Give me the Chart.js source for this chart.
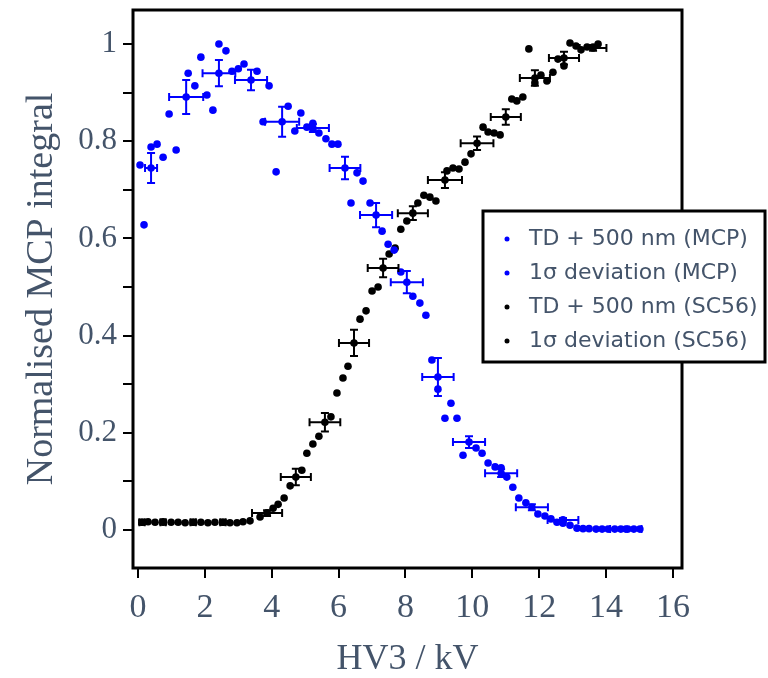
<!DOCTYPE html>
<html>
<head>
<meta charset="utf-8">
<script src="https://cdn.jsdelivr.net/npm/chart.js@4.4.1/dist/chart.umd.min.js"></script>
<style>
  html, body { margin: 0; padding: 0; background: #fff; }
  #wrap { width: 768px; height: 678px; position: relative; }
</style>
</head>
<body>
<div id="wrap"><canvas id="mcpChart"></canvas></div>
<script>
// TD + 500 nm (MCP)
const mcpX = [0.06, 0.18, 0.39, 0.57, 0.75, 0.93, 1.14, 1.50, 1.70, 1.88, 2.06, 2.24, 2.42, 2.63, 2.81, 3.00, 3.17, 3.56, 3.74, 3.92,
  4.13, 4.49, 4.69, 4.87, 5.05, 5.23, 5.23, 5.41, 5.62, 5.80, 5.98, 6.37, 6.55, 6.73, 6.94, 7.30, 7.48, 7.66, 7.86, 8.22,
  8.43, 8.61, 8.79, 8.97, 9.18, 9.36, 9.54, 9.72, 10.11, 10.29, 10.47, 10.68, 10.86, 11.03, 11.21, 11.39, 11.60, 11.96, 12.17, 12.35,
  12.53, 12.71, 12.92, 13.13, 13.31, 13.49, 13.70, 13.88, 14.06, 14.26, 14.44, 14.65, 14.83, 15.01];
const mcpY = [0.751, 0.628, 0.788, 0.794, 0.767, 0.856, 0.782, 0.940, 0.914, 0.973, 0.895, 0.864, 1.000, 0.986, 0.944, 0.949, 0.959, 0.944, 0.840, 0.914,
  0.737, 0.872, 0.821, 0.858, 0.829, 0.837, 0.825, 0.817, 0.805, 0.794, 0.794, 0.673, 0.735, 0.718, 0.673, 0.615, 0.588, 0.576, 0.531, 0.481,
  0.467, 0.442, 0.350, 0.290, 0.230, 0.261, 0.230, 0.154, 0.169, 0.158, 0.138, 0.130, 0.128, 0.109, 0.088, 0.066, 0.056, 0.033, 0.029, 0.023,
  0.016, 0.014, 0.010, 0.004, 0.003, 0.003, 0.002, 0.002, 0.002, 0.002, 0.002, 0.002, 0.002, 0.002];

// 1σ deviation (MCP)
const mcpErrX = [0.39, 1.44, 2.42, 3.38, 4.31, 5.23, 6.19, 7.12, 8.04, 8.97, 9.90, 10.86, 11.78, 12.71, 14.59];
const mcpErrY = [0.745, 0.891, 0.940, 0.926, 0.840, 0.827, 0.745, 0.648, 0.510, 0.315, 0.181, 0.117, 0.047, 0.021, 0.002];
const mcpErrDX = [0.18, 0.51, 0.49, 0.48, 0.51, 0.48, 0.46, 0.48, 0.48, 0.47, 0.48, 0.48, 0.48, 0.46, 0.47];
const mcpErrDY = [0.031, 0.035, 0.027, 0.021, 0.031, 0.008, 0.023, 0.025, 0.023, 0.039, 0.012, 0.008, 0.006, 0.004, 0.003];

// TD + 500 nm (SC56)
const scX = [0.12, 0.30, 0.51, 0.75, 0.99, 1.20, 1.41, 1.65, 1.88, 2.09, 2.30, 2.54, 2.75, 2.96, 3.14, 3.35, 3.65, 3.86, 4.04, 4.19,
  4.37, 4.55, 4.90, 5.05, 5.23, 5.41, 5.77, 5.95, 6.13, 6.28, 6.64, 6.82, 7.00, 7.18, 7.51, 7.69, 7.86, 8.04, 8.37, 8.55,
  8.73, 8.91, 9.24, 9.42, 9.60, 9.78, 9.96, 10.32, 10.47, 10.65, 10.83, 11.18, 11.33, 11.51, 11.69, 11.87, 12.05, 12.23, 12.41, 12.56,
  12.74, 12.92, 13.10, 13.25, 13.43, 13.61, 13.76];
const scY = [0.016, 0.017, 0.016, 0.017, 0.016, 0.016, 0.015, 0.016, 0.016, 0.015, 0.016, 0.016, 0.015, 0.015, 0.017, 0.019, 0.027, 0.035, 0.045, 0.053,
  0.066, 0.091, 0.123, 0.158, 0.177, 0.193, 0.233, 0.282, 0.313, 0.337, 0.434, 0.451, 0.492, 0.500, 0.568, 0.580, 0.619, 0.636, 0.673, 0.689,
  0.685, 0.677, 0.739, 0.745, 0.743, 0.757, 0.774, 0.829, 0.819, 0.817, 0.813, 0.887, 0.883, 0.891, 0.990, 0.920, 0.936, 0.924, 0.942, 0.969,
  0.955, 1.002, 0.996, 0.988, 0.994, 0.994, 1.000];

// 1σ deviation (SC56)
const scErrX = [0.12, 0.75, 1.65, 2.54, 3.86, 4.72, 5.59, 6.46, 7.33, 8.22, 9.18, 10.14, 11.00, 11.87, 12.74, 13.61];
const scErrY = [0.016, 0.016, 0.016, 0.016, 0.035, 0.109, 0.222, 0.385, 0.539, 0.652, 0.720, 0.796, 0.850, 0.930, 0.971, 0.992];
const scErrDX = [0.08, 0.08, 0.08, 0.08, 0.45, 0.45, 0.46, 0.45, 0.46, 0.45, 0.51, 0.49, 0.45, 0.45, 0.45, 0.40];
const scErrDY = [0.004, 0.004, 0.004, 0.004, 0.006, 0.017, 0.019, 0.027, 0.019, 0.014, 0.016, 0.014, 0.016, 0.016, 0.013, 0.006];

const xTicks = [0, 2, 4, 6, 8, 10, 12, 14, 16];
const yTicks = [0, 0.1, 0.2, 0.3, 0.4, 0.5, 0.6, 0.7, 0.8, 0.9, 1];
const yTickLabels = ['0', '', '0.2', '', '0.4', '', '0.6', '', '0.8', '', '1'];
const seriesNames = ['TD + 500 nm (MCP)', '1σ deviation (MCP)', 'TD + 500 nm (SC56)', '1σ deviation (SC56)'];

const textColor = '#44546a';
const serif = '"Liberation Serif", "Times New Roman", serif';
const toPoints = (xs, ys) => xs.map((x, i) => ({ x: x, y: ys[i] }));

// error bars drawn through the chart scales
const errorBars = {
  id: 'errorBars',
  afterDatasetsDraw(chart) {
    const ctx = chart.ctx;
    const xs = chart.scales.x, ys = chart.scales.y;
    chart.data.datasets.forEach((ds) => {
      if (!ds.errX) return;
      ctx.save();
      ctx.strokeStyle = ds.borderColor;
      ctx.lineWidth = 2;
      ds.data.forEach((p, i) => {
        const cx = xs.getPixelForValue(p.x), cy = ys.getPixelForValue(p.y);
        const x0 = xs.getPixelForValue(p.x - ds.errX[i]), x1 = xs.getPixelForValue(p.x + ds.errX[i]);
        const y0 = ys.getPixelForValue(p.y - ds.errY[i]), y1 = ys.getPixelForValue(p.y + ds.errY[i]);
        const cap = 4;
        ctx.beginPath();
        ctx.moveTo(x0, cy); ctx.lineTo(x1, cy);
        ctx.moveTo(x0, cy - cap); ctx.lineTo(x0, cy + cap);
        ctx.moveTo(x1, cy - cap); ctx.lineTo(x1, cy + cap);
        ctx.moveTo(cx, y0); ctx.lineTo(cx, y1);
        ctx.moveTo(cx - cap, y0); ctx.lineTo(cx + cap, y0);
        ctx.moveTo(cx - cap, y1); ctx.lineTo(cx + cap, y1);
        ctx.stroke();
      });
      ctx.restore();
    });
  }
};

// box around the plot and the legend inside it
const frameAndLegend = {
  id: 'frameAndLegend',
  afterDraw(chart) {
    const ctx = chart.ctx;
    const a = chart.chartArea;
    ctx.save();
    ctx.strokeStyle = '#000';
    ctx.lineWidth = 3;
    ctx.strokeRect(a.left, a.top, a.right - a.left, a.bottom - a.top);

    const bx = 483, by = 211, bw = 282, bh = 151;
    ctx.fillStyle = '#fff';
    ctx.fillRect(bx, by, bw, bh);
    ctx.strokeRect(bx, by, bw, bh);
    ctx.font = '22px "DejaVu Sans", Verdana, sans-serif';
    ctx.textBaseline = 'middle';
    chart.data.datasets.forEach((ds, i) => {
      const ly = by + 28 + i * 34;
      ctx.fillStyle = ds.backgroundColor;
      ctx.beginPath();
      ctx.arc(bx + 24, ly, 2.5, 0, Math.PI * 2);
      ctx.fill();
      ctx.fillStyle = textColor;
      ctx.fillText(ds.label, bx + 46, ly);
    });
    ctx.restore();
  }
};

const noEdgePadding = (s) => {
  s.paddingTop = 0; s.paddingBottom = 0; s.paddingLeft = 0; s.paddingRight = 0;
};

const ctx = document.getElementById('mcpChart').getContext('2d');
const mcpChart = new Chart(ctx, {
  type: 'scatter',
  data: {
    datasets: [{
      label: seriesNames[0],
      data: toPoints(mcpX, mcpY),
      backgroundColor: '#0000ff',
      borderColor: '#0000ff',
      pointRadius: 3.8,
      borderWidth: 0
    }, {
      label: seriesNames[1],
      data: toPoints(mcpErrX, mcpErrY),
      errX: mcpErrDX,
      errY: mcpErrDY,
      backgroundColor: '#0000ff',
      borderColor: '#0000ff',
      pointRadius: 3.8,
      borderWidth: 0
    }, {
      label: seriesNames[2],
      data: toPoints(scX, scY),
      backgroundColor: '#000000',
      borderColor: '#000000',
      pointRadius: 3.8,
      borderWidth: 0
    }, {
      label: seriesNames[3],
      data: toPoints(scErrX, scErrY),
      errX: scErrDX,
      errY: scErrDY,
      backgroundColor: '#000000',
      borderColor: '#000000',
      pointRadius: 3.8,
      borderWidth: 0
    }]
  },
  options: {
    responsive: true,
    maintainAspectRatio: false,
    animation: false,
    layout: {
      padding: { top: 10, right: 86, left: 0, bottom: 0 }
    },
    plugins: {
      legend: { display: false },
      tooltip: { enabled: false }
    },
    scales: {
      x: {
        type: 'linear',
        min: -0.15,
        max: 16.27,
        afterFit: (s) => { s.height = 110; noEdgePadding(s); },
        afterBuildTicks: (s) => { s.ticks = xTicks.map(v => ({ value: v })); },
        border: { display: false },
        grid: {
          drawOnChartArea: false,
          drawTicks: true,
          tickLength: 10,
          color: '#000',
          lineWidth: 2
        },
        ticks: {
          color: textColor,
          padding: 10,
          maxRotation: 0,
          font: { family: serif, size: 34 }
        },
        title: {
          display: true,
          text: 'HV3 / kV',
          color: textColor,
          padding: { top: 0, bottom: 0 },
          font: { family: serif, size: 36, lineHeight: 1 }
        }
      },
      y: {
        type: 'linear',
        min: -0.078,
        max: 1.07,
        afterFit: (s) => { s.width = 133; noEdgePadding(s); },
        afterBuildTicks: (s) => { s.ticks = yTicks.map(v => ({ value: v })); },
        border: { display: false },
        grid: {
          drawOnChartArea: false,
          drawTicks: true,
          tickLength: 10,
          color: '#000',
          lineWidth: 2
        },
        ticks: {
          color: textColor,
          padding: 6,
          callback: (v, i) => yTickLabels[i],
          font: { family: serif, size: 31 }
        },
        title: {
          display: true,
          text: 'Normalised MCP integral',
          color: textColor,
          padding: { top: 19, bottom: 0 },
          font: { family: serif, size: 38 }
        }
      }
    }
  },
  plugins: [errorBars, frameAndLegend]
});
</script>
</body>
</html>
